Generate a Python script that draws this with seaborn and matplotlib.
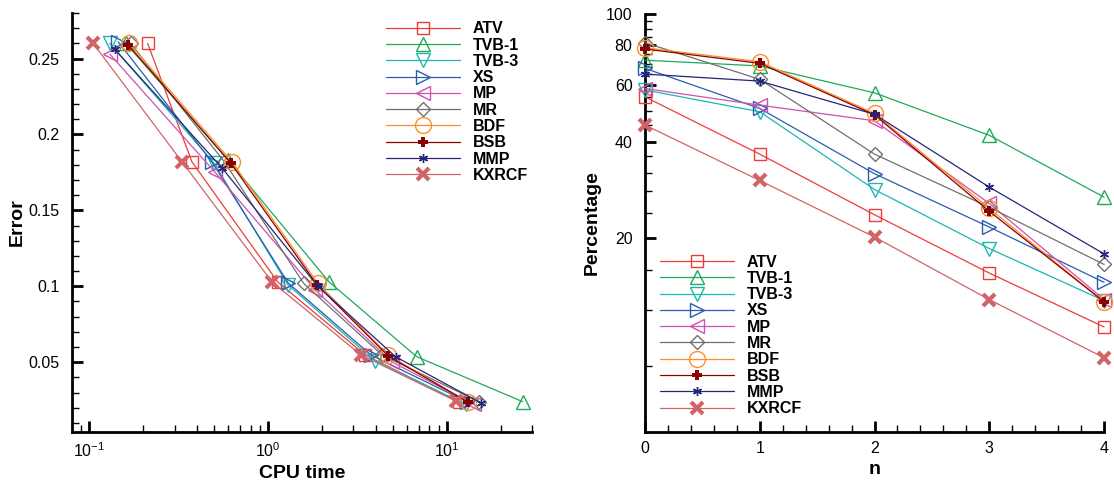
import numpy as np
import pandas as pd
import matplotlib
matplotlib.use("Agg")
import matplotlib.pyplot as plt
import matplotlib.ticker as mticker
import seaborn as sns

sns.set_style("ticks")
plt.rcParams['font.family'] = ['Liberation Sans', 'DejaVu Sans']
plt.rcParams['mathtext.default'] = 'regular'
plt.rcParams['text.color'] = 'black'
plt.rcParams['axes.labelcolor'] = 'black'
plt.rcParams['xtick.color'] = 'black'
plt.rcParams['ytick.color'] = 'black'

methods = ["ATV", "TVB-1", "TVB-3", "XS", "MP", "MR", "BDF", "BSB", "MMP", "KXRCF"]

# Left panel: CPU time vs Error
cpu_ATV = [0.212, 0.375, 1.13, 3.51, 11.7]
cpu_TVB1 = [0.160, 0.600, 2.19, 6.79, 26.6]
cpu_TVB3 = [0.130, 0.500, 1.29, 3.95, 12.8]
cpu_XS = [0.145, 0.485, 1.30, 3.78, 13.0]
cpu_MP = [0.130, 0.506, 1.84, 4.96, 14.2]
cpu_MR = [0.170, 0.570, 1.58, 4.36, 15.2]
cpu_BDF = [0.167, 0.628, 1.90, 4.71, 13.1]
cpu_BSB = [0.165, 0.620, 1.88, 4.71, 13.2]
cpu_MMP = [0.139, 0.552, 1.90, 5.17, 15.5]
cpu_KXRCF = [0.105, 0.330, 1.05, 3.32, 11.2]

err_ATV = [0.260, 0.182, 0.103, 0.0546, 0.0239]
err_TVB1 = [0.260, 0.183, 0.103, 0.0536, 0.0240]
err_TVB3 = [0.260, 0.181, 0.101, 0.0510, 0.0222]
err_XS = [0.261, 0.182, 0.102, 0.0546, 0.0239]
err_MP = [0.253, 0.175, 0.0975, 0.0500, 0.0222]
err_MR = [0.260, 0.182, 0.102, 0.0546, 0.0239]
err_BDF = [0.260, 0.182, 0.102, 0.0546, 0.0240]
err_BSB = [0.259, 0.181, 0.101, 0.0540, 0.0236]
err_MMP = [0.256, 0.178, 0.100, 0.0536, 0.0232]
err_KXRCF = [0.260, 0.182, 0.103, 0.0546, 0.0245]

# Right panel: n vs Percentage
n_vals = [0, 1, 2, 3, 4]
pct_ATV = [55.2, 36.6, 23.7, 15.6, 10.6]
pct_TVB1 = [71.8, 68.9, 56.8, 41.9, 26.9]
pct_TVB3 = [58.0, 49.6, 28.4, 18.6, 12.8]
pct_XS = [67.7, 50.8, 31.8, 21.7, 14.6]
pct_MP = [58.6, 52.0, 46.5, 25.7, 12.9]
pct_MR = [81.4, 62.6, 36.6, 25.0, 16.6]
pct_BDF = [78.5, 71.0, 49.0, 24.8, 12.7]
pct_BSB = [77.8, 70.2, 48.5, 24.3, 12.7]
pct_MMP = [65.0, 61.8, 48.7, 28.9, 17.9]
pct_KXRCF = [45.1, 30.3, 20.2, 12.9, 8.5]

cpu = [cpu_ATV, cpu_TVB1, cpu_TVB3, cpu_XS, cpu_MP, cpu_MR, cpu_BDF, cpu_BSB, cpu_MMP, cpu_KXRCF]
err = [err_ATV, err_TVB1, err_TVB3, err_XS, err_MP, err_MR, err_BDF, err_BSB, err_MMP, err_KXRCF]
pct = [pct_ATV, pct_TVB1, pct_TVB3, pct_XS, pct_MP, pct_MR, pct_BDF, pct_BSB, pct_MMP, pct_KXRCF]

colors = ['#ee3b3b', '#1faa5a', '#1ab8b0', '#2a5db0', '#d050b0',
          '#707070', '#ff8c2a', '#8b0000', '#25257a', '#d06468']
asterisk = (6, 2, 0)
styles = [
    dict(marker='s', ms=8.5, mew=1.0, mfc='none'),
    dict(marker='^', ms=9.5, mew=1.0, mfc='none'),
    dict(marker='v', ms=9.5, mew=1.0, mfc='none'),
    dict(marker='>', ms=9.5, mew=1.0, mfc='none'),
    dict(marker='<', ms=9.5, mew=1.0, mfc='none'),
    dict(marker='D', ms=7.5, mew=1.0, mfc='none'),
    dict(marker='o', ms=11.5, mew=1.0, mfc='none'),
    dict(marker='P', ms=7.5, mew=0.0, mfc=None),
    dict(marker=asterisk, ms=6.5, mew=1.0, mfc='none'),
    dict(marker='x', ms=8.5, mew=3.0, mfc='none'),
]

rows_l = []
rows_r = []
for i, m in enumerate(methods):
    for a, b in zip(cpu[i], err[i]):
        rows_l.append(dict(method=m, cpu=a, err=b))
    for a, b in zip(n_vals, pct[i]):
        rows_r.append(dict(method=m, n=a, pct=b))
df_l = pd.DataFrame(rows_l)
df_r = pd.DataFrame(rows_r)

fig = plt.figure(figsize=(11.14, 4.86), dpi=100)
axL = fig.add_axes([72 / 1114, (486 - 432) / 486, 460 / 1114, 419 / 486])
axR = fig.add_axes([645 / 1114, (486 - 431.7) / 486, 459 / 1114, 417.7 / 486])


def draw(ax, df, x, y):
    for i, m in enumerate(methods):
        st = dict(styles[i])
        mfc = st.pop('mfc')
        if mfc is None:
            mfc = colors[i]
        sns.lineplot(data=df[df.method == m], x=x, y=y, ax=ax, sort=False,
                     estimator=None, color=colors[i], lw=0.9, label=m,
                     marker=st['marker'], markersize=st['ms'],
                     markeredgewidth=st['mew'], markerfacecolor=mfc,
                     markeredgecolor=colors[i], clip_on=False, zorder=3)


draw(axL, df_l, 'cpu', 'err')
draw(axR, df_r, 'n', 'pct')

for ax in (axL, axR):
    sns.despine(ax=ax)
    for s in ('left', 'bottom'):
        ax.spines[s].set_linewidth(2.0)
        ax.spines[s].set_color('black')
    ax.tick_params(which='major', direction='in', length=8, width=2,
                   labelsize=11.5, color='black', labelcolor='black')
    ax.tick_params(axis='y', which='major', pad=9)
    ax.tick_params(axis='x', which='major', pad=7)
    ax.tick_params(which='minor', direction='in', length=5, width=1, color='black')

# Left axes
axL.set_xscale('log')
axL.set_xlim(0.08, 30)
axL.set_ylim(0.004, 0.28)
axL.xaxis.set_major_locator(mticker.LogLocator(base=10, numticks=10))
axL.xaxis.set_minor_locator(mticker.LogLocator(base=10, subs=np.arange(2, 10), numticks=20))
axL.xaxis.set_minor_formatter(mticker.NullFormatter())
axL.yaxis.set_major_locator(mticker.FixedLocator([0.05, 0.1, 0.15, 0.2, 0.25]))
axL.yaxis.set_major_formatter(mticker.FuncFormatter(lambda v, p: '%g' % v))
axL.yaxis.set_minor_locator(mticker.MultipleLocator(0.01))
axL.set_xlabel('CPU time', fontsize=14, fontweight='bold', labelpad=3)
axL.set_ylabel('Error', fontsize=14, fontweight='bold', labelpad=2)

# Right axes
axR.set_yscale('log')
axR.set_xlim(0, 4)
axR.set_ylim(5, 100)
axR.xaxis.set_major_locator(mticker.FixedLocator([0, 1, 2, 3, 4]))
axR.xaxis.set_minor_locator(mticker.MultipleLocator(0.2))
axR.yaxis.set_major_locator(mticker.FixedLocator([20, 40, 60, 80, 100]))
axR.yaxis.set_major_formatter(mticker.FuncFormatter(lambda v, p: '%g' % v))
axR.yaxis.set_minor_locator(mticker.FixedLocator([8, 12, 16, 24, 28, 32, 36, 45, 50, 55,
                                                  65, 70, 75, 85, 90, 95]))
axR.yaxis.set_minor_formatter(mticker.NullFormatter())
axR.set_xlabel('n', fontsize=14, fontweight='bold', labelpad=3)
axR.set_ylabel('Percentage', fontsize=14, fontweight='bold', labelpad=4)

leg_kw = dict(frameon=False, prop={'weight': 'bold', 'size': 11.5},
              handlelength=4.6, handletextpad=0.8, labelspacing=0.08,
              borderpad=0, borderaxespad=0, loc='upper left')
for ax, anchor in ((axL, (0.683, 0.98)), (axR, (0.033, 0.424))):
    leg = ax.legend(bbox_to_anchor=anchor, **leg_kw)
    for t in leg.get_texts():
        t.set_color('black')

fig.savefig('out.png', dpi=100)
